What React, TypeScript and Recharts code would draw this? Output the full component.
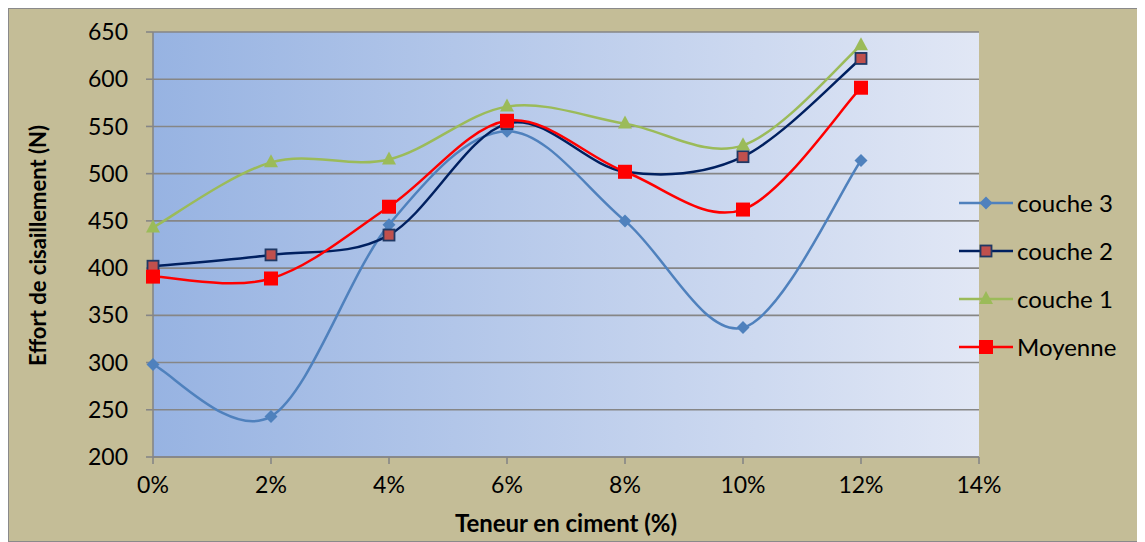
import { LineChart, Line, XAxis, YAxis, CartesianGrid, Legend } from 'recharts';

const teneur = [0, 2, 4, 6, 8, 10, 12];
const couche3 = [298, 243, 446, 545, 450, 337, 514];
const couche2 = [402, 414, 435, 553, 502, 518, 622];
const couche1 = [443, 512, 515, 571, 553, 530, 636];
const moyenne = [391, 389, 465, 556, 502, 462, 591];
const xTicks = [0, 2, 4, 6, 8, 10, 12, 14];
const yTicks = [200, 250, 300, 350, 400, 450, 500, 550, 600, 650];

const data = teneur.map((t, i) => ({
  t,
  c3: couche3[i],
  c2: couche2[i],
  c1: couche1[i],
  moy: moyenne[i],
}));

const FONT = 'Lato, Carlito, Calibri, sans-serif';
const AXIS = '#868686';

// Excel-like smoothing (Catmull-Rom through every point)
const excelCurve = (context: any) => {
  let pts: number[][] = [];
  return {
    areaStart() {},
    areaEnd() {},
    lineStart() {
      pts = [];
    },
    point(x: number, y: number) {
      pts.push([+x, +y]);
    },
    lineEnd() {
      const n = pts.length;
      if (!n) return;
      context.moveTo(pts[0][0], pts[0][1]);
      for (let i = 0; i < n - 1; i++) {
        const p0 = pts[i - 1] || pts[i];
        const p1 = pts[i];
        const p2 = pts[i + 1];
        const p3 = pts[i + 2] || p2;
        context.bezierCurveTo(
          p1[0] + (p2[0] - p0[0]) / 6,
          p1[1] + (p2[1] - p0[1]) / 6,
          p2[0] - (p3[0] - p1[0]) / 6,
          p2[1] - (p3[1] - p1[1]) / 6,
          p2[0],
          p2[1]
        );
      }
    },
  };
};

const Marker = ({ kind, cx, cy }: { kind: string; cx: number; cy: number }) => {
  if (kind === 'diamond')
    return <polygon points={`${cx},${cy - 6.5} ${cx + 6.5},${cy} ${cx},${cy + 6.5} ${cx - 6.5},${cy}`} fill="#4F81BD" />;
  if (kind === 'square')
    return <rect x={cx - 5.5} y={cy - 5.5} width={11} height={11} fill="#C0504D" stroke="#1F3864" strokeWidth={1.8} />;
  if (kind === 'triangle')
    return <polygon points={`${cx},${cy - 8} ${cx + 7},${cy + 5} ${cx - 7},${cy + 5}`} fill="#9BBB59" />;
  return <rect x={cx - 7} y={cy - 7} width={14} height={14} fill="#FF0000" />;
};

const series = [
  { key: 'c3', name: 'couche 3', color: '#4F81BD', kind: 'diamond' },
  { key: 'c2', name: 'couche 2', color: '#002060', kind: 'square' },
  { key: 'c1', name: 'couche 1', color: '#9BBB59', kind: 'triangle' },
  { key: 'moy', name: 'Moyenne', color: '#FF0000', kind: 'big' },
];

const LegendBox = () => (
  <div style={{ fontFamily: FONT, fontSize: 24, color: '#000', lineHeight: 1 }}>
    {series.map((s) => (
      <div key={s.key} style={{ display: 'flex', alignItems: 'center', height: 48 }}>
        <svg width={54} height={20} style={{ flex: 'none' }}>
          <line x1={0} y1={10} x2={54} y2={10} stroke={s.color} strokeWidth={2.5} />
          <Marker kind={s.kind} cx={27} cy={10} />
        </svg>
        <span style={{ marginLeft: 4 }}>{s.name}</span>
      </div>
    ))}
  </div>
);

export default function App() {
  return (
    <div
      style={{
        width: 1137,
        height: 534,
        boxSizing: 'border-box',
        background: '#C4BD97',
        border: '1px solid #8a8a8a',
      }}
    >
      <LineChart width={1135} height={532} data={data} margin={{ top: 23, right: 165, bottom: 9, left: 64 }}>
        <defs>
          <linearGradient id="plotBg" x1="0" y1="0" x2="1" y2="0">
            <stop offset="0%" stopColor="#97B3E2" />
            <stop offset="100%" stopColor="#E1E7F5" />
          </linearGradient>
        </defs>
        <CartesianGrid vertical={false} stroke={AXIS} strokeWidth={1.6} fill="url(#plotBg)" fillOpacity={1} />
        <XAxis
          dataKey="t"
          type="number"
          domain={[0, 14]}
          ticks={xTicks}
          tickFormatter={(v) => `${v}%`}
          height={75}
          stroke={AXIS}
          strokeWidth={1.6}
          tickSize={7}
          tickMargin={13}
          tick={{ fill: '#000', fontSize: 23, fontFamily: FONT }}
          label={{
            value: 'Teneur en ciment (%)',
            position: 'insideBottom',
            offset: 0,
            dx: 0,
            style: { fill: '#000', fontSize: 24, fontWeight: 'bold', fontFamily: FONT },
          }}
        />
        <YAxis
          type="number"
          domain={[200, 650]}
          ticks={yTicks}
          width={80}
          stroke={AXIS}
          strokeWidth={1.6}
          tickSize={7}
          tickMargin={18}
          tick={{ fill: '#000', fontSize: 23, fontFamily: FONT }}
          label={{
            content: (p: any) => {
              const vb = p.viewBox;
              const cx = 28;
              const cy = vb.y + vb.height / 2 + 1;
              return (
                <text
                  x={cx}
                  y={cy}
                  transform={`rotate(-90, ${cx}, ${cy})`}
                  textAnchor="middle"
                  dominantBaseline="central"
                  style={{ fill: '#000', fontSize: 22, fontWeight: 'bold', fontFamily: FONT }}
                >
                  Effort de cisaillement (N)
                </text>
              );
            },
          }}
        />
        <Legend
          layout="vertical"
          align="center"
          verticalAlign="middle"
          content={() => <LegendBox />}
          wrapperStyle={{ left: 950, top: 170, width: 185, height: 200 }}
        />
        {series.map((s) => (
          <Line
            key={s.key}
            dataKey={s.key}
            name={s.name}
            type={excelCurve as any}
            stroke={s.color}
            strokeWidth={2.5}
            isAnimationActive={false}
            dot={(p: any) => <Marker key={`${s.key}-${p.index}`} kind={s.kind} cx={p.cx} cy={p.cy} />}
            activeDot={false}
          />
        ))}
      </LineChart>
    </div>
  );
}
